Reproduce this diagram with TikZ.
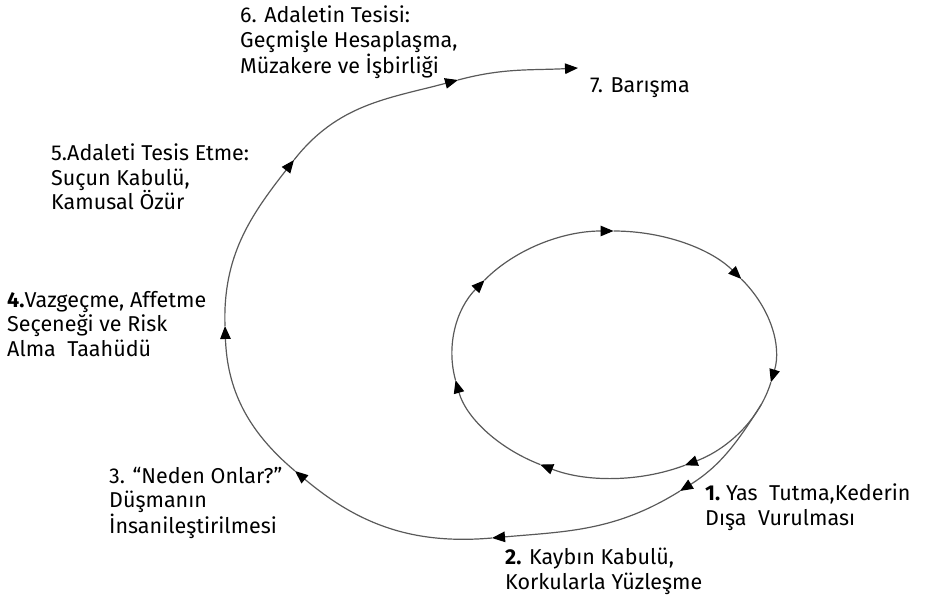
\documentclass[tikz,border=0pt]{standalone}
\usepackage{fontspec}
\setmainfont{Fira Sans}
\usetikzlibrary{arrows.meta}
\begin{document}
\begin{tikzpicture}[x=1pt,y=1pt,
  line/.style={draw=black!65, line width=1.2pt},
  arr/.style={line, -{Triangle[length=13pt,width=10.5pt,color=black]}},
  lbl/.style={anchor=north west, inner sep=0pt, align=left, font=\fontsize{21.5}{24.5}\selectfont, text=black}]
\useasboundingbox (0,0) rectangle (925,600);
% inner loop
\def\cx{613.5}\def\cy{245.5}\def\rx{161.5}\def\ry{123.5}
\coordinate (e0) at ([shift={(\cx,\cy)}]90:\rx pt and \ry pt);
\coordinate (e1) at ([shift={(\cx,\cy)}]37.7:\rx pt and \ry pt);
\coordinate (e2) at ([shift={(\cx,\cy)}]-13:\rx pt and \ry pt);
\coordinate (e3) at ([shift={(\cx,\cy)}]-63.8:\rx pt and \ry pt);
\coordinate (e4) at ([shift={(\cx,\cy)}]-117:\rx pt and \ry pt);
\coordinate (e5) at ([shift={(\cx,\cy)}]-168:\rx pt and \ry pt);
\coordinate (e6) at ([shift={(\cx,\cy)}]-217:\rx pt and \ry pt);
\draw[arr] (e0) arc[start angle=90, end angle=37.7, x radius=\rx, y radius=\ry];
\draw[arr] (e1) arc[start angle=37.7, end angle=-13, x radius=\rx, y radius=\ry];
\draw[arr] (e2) arc[start angle=-13, end angle=-63.8, x radius=\rx, y radius=\ry];
\draw[arr] (e3) arc[start angle=-63.8, end angle=-117, x radius=\rx, y radius=\ry];
\draw[arr] (e4) arc[start angle=-117, end angle=-168, x radius=\rx, y radius=\ry];
\draw[arr] (e5) arc[start angle=-168, end angle=-217, x radius=\rx, y radius=\ry];
\draw[arr] (e6) arc[start angle=-217, end angle=-270, x radius=\rx, y radius=\ry];
% outer spiral
\coordinate (s) at ([shift={(\cx,\cy)}]-24:\rx pt and \ry pt);
\coordinate (a1) at (680,109);
\coordinate (a2) at (492,62);
\coordinate (a3) at (295,129);
\coordinate (a4) at (225,274);
\coordinate (a5) at (294,440);
\coordinate (a6) at (458,520);
\coordinate (a7) at (578,532);
\draw[arr] (s) to[out=238,in=32] (a1);
\draw[arr] (a1) to[out=212,in=5] (a2);
\draw[arr] (a2) to[out=185,in=-40] (a3);
\draw[arr] (a3) to[out=140,in=-88] (a4);
\draw[arr] (a4) to[out=92,in=232] (a5);
\draw[arr] (a5) to[out=52,in=195] (a6);
\draw[arr] (a6) to[out=15,in=183] (a7);
% labels
\node[lbl] (t6) at (240,594) {6. Adaletin Tesisi:\\Geçmişle Hesaplaşma,\\Müzakere ve İşbirliği};
\node[lbl] (t7) at (590,523) {7. Barışma};
\node[lbl] (t5) at (51,456) {5.Adaleti Tesis Etme:\\Suçun Kabulü,\\Kamusal Özür};
\node[lbl] (t4) at (7,309) {\textbf{4.}Vazgeçme, Affetme\\Seçeneği ve Risk\\Alma\ \ Taahüdü};
\node[lbl] (t3) at (109,133) {3. “Neden Onlar?”\\Düşmanın\\İnsanileştirilmesi};
\node[lbl] (t1) at (705,116) {\textbf{1.}\ Yas\ \ Tutma,Kederin\\Dışa\ \ Vurulması};
\node[lbl] (t2) at (505,52) {\textbf{2.} Kaybın Kabulü,\\Korkularla Yüzleşme};
\end{tikzpicture}
\end{document}
